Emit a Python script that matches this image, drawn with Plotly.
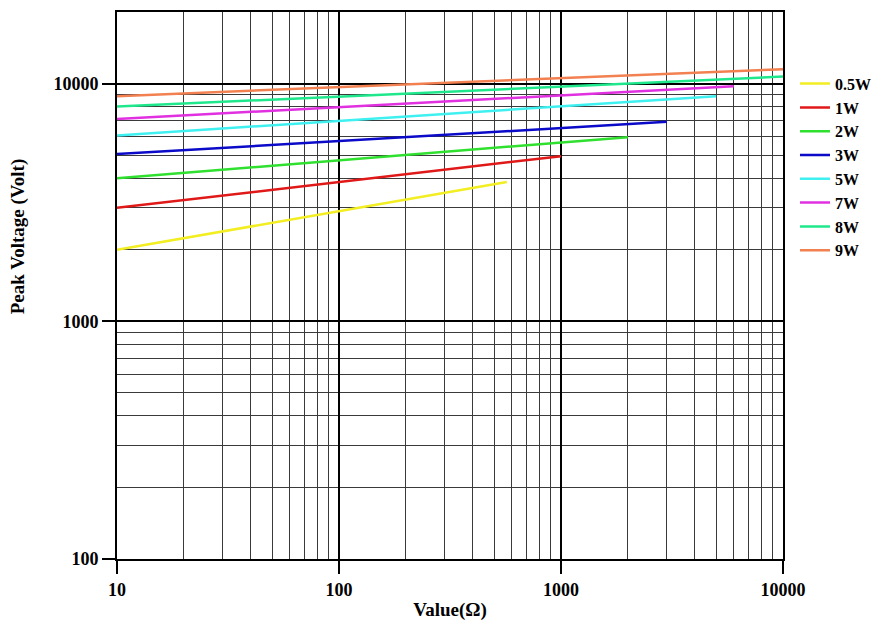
import plotly.graph_objects as go

# ---- data ----
series_names = ["0.5W", "1W", "2W", "3W", "5W", "7W", "8W", "9W"]
x_start = [10, 10, 10, 10, 10, 10, 10, 10]
x_end = [570, 1000, 2000, 3000, 5000, 6000, 10000, 10000]
v_start = [2000, 3000, 4000, 5050, 6050, 7100, 8000, 8850]
v_end = [3850, 4950, 5950, 6900, 8850, 9750, 10700, 11500]
series_colors = ["#f2ee22", "#e01818", "#2fe02f", "#0a0ac8",
                 "#3ff0f0", "#e030e0", "#1fe88c", "#f28050"]

x_tick_vals = [10, 100, 1000, 10000]
x_tick_text = ["10", "100", "1000", "10000"]
y_tick_vals = [100, 1000, 10000]
y_tick_text = ["100", "1000", "10000"]

x_minor = [m * d for d in (10, 100, 1000) for m in range(2, 10)]
y_minor = [m * d for d in (100, 1000) for m in range(2, 10)]

FONT = "Liberation Serif"

fig = go.Figure()
for name, xs, xe, vs, ve, c in zip(series_names, x_start, x_end, v_start, v_end, series_colors):
    fig.add_trace(go.Scatter(x=[xs, xe], y=[vs, ve], mode="lines", name=name,
                             line=dict(color=c, width=2.5)))

axis_common = dict(
    type="log",
    showline=True, linecolor="black", linewidth=2, mirror=True,
    ticks="outside", ticklen=13, tickwidth=1.5, tickcolor="black",
    showgrid=True, gridcolor="black", gridwidth=2,
    zeroline=False,
    tickfont=dict(family=FONT, size=18, color="black", weight="bold"),
)

fig.update_xaxes(**axis_common, range=[1, 4], tickvals=x_tick_vals, ticktext=x_tick_text,
                 minor=dict(tickvals=x_minor, showgrid=True, gridcolor="#3a3a3a",
                            gridwidth=1.4, ticks=""),
                 title=dict(text="Value(Ω)", font=dict(family=FONT, size=19, color="black", weight="bold"),
                            standoff=4))
fig.update_yaxes(**axis_common, range=[2, 4.30103], tickvals=y_tick_vals, ticktext=y_tick_text,
                 minor=dict(tickvals=y_minor, showgrid=True, gridcolor="#3a3a3a",
                            gridwidth=1.4, ticks=""))

fig.add_annotation(text="Peak Voltage (Volt)", textangle=-90, showarrow=False,
                   xref="paper", yref="paper", x=0, y=0.59, xanchor="center", yanchor="middle",
                   xshift=-99, font=dict(family=FONT, size=19, color="black", weight="bold"))

fig.update_layout(
    width=885, height=614,
    margin=dict(l=109, r=110, t=4, b=63, autoexpand=False),
    paper_bgcolor="white", plot_bgcolor="white",
    font=dict(family=FONT, size=18, color="black", weight="bold"),
    legend=dict(x=1.018, y=0.90, xanchor="left", yanchor="top",
                font=dict(family=FONT, size=16, color="black", weight="bold"),
                itemwidth=30, bgcolor="rgba(0,0,0,0)"),
    showlegend=True,
)

fig.write_html("out.html")
